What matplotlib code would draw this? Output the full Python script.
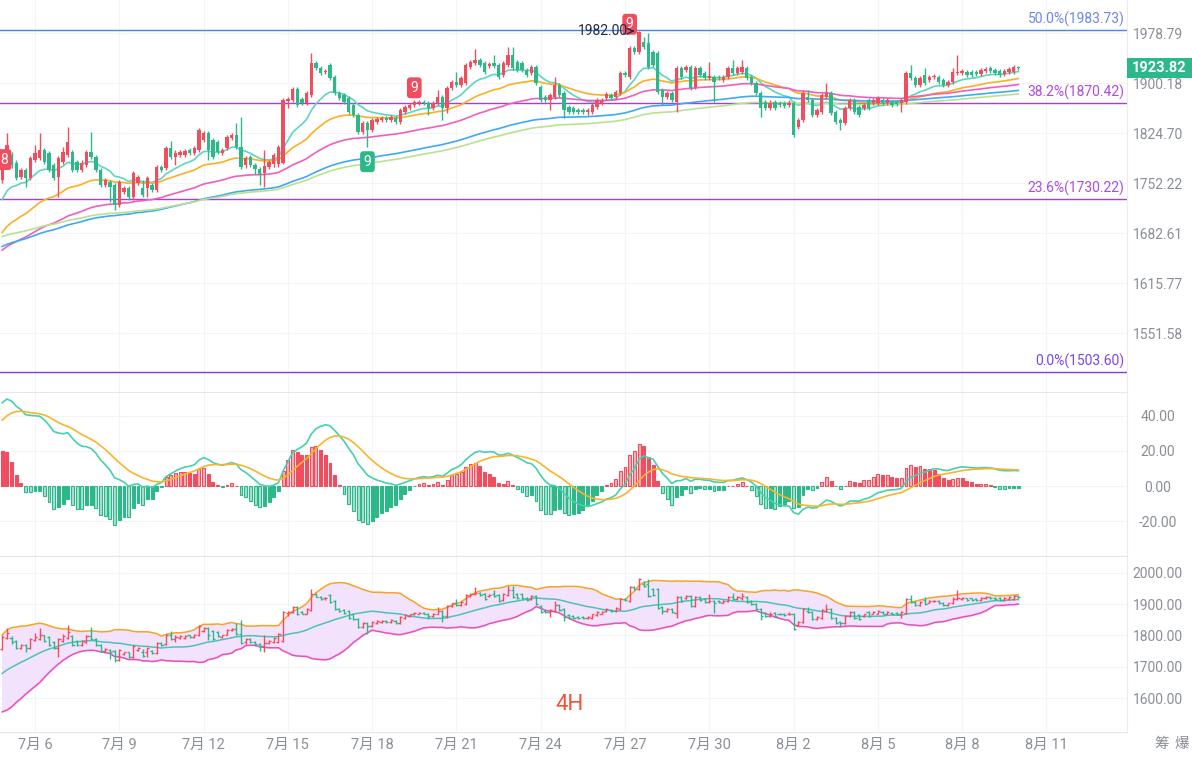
import numpy as np
import pandas as pd
import matplotlib
matplotlib.use('Agg')
import matplotlib.pyplot as plt
from matplotlib.patches import Rectangle

plt.rcParams['font.family'] = ['Roboto', 'Noto Sans CJK SC', 'DejaVu Sans']

# 4H candles, first one at 2023-07-04 20:00
start_time = '2023-07-04 20:00'

opens = [1757, 1793, 1793, 1781, 1761, 1771, 1760, 1786, 1789, 1800,
         1796, 1778, 1761, 1783, 1793, 1797, 1783, 1771, 1778, 1797,
         1790, 1771, 1750, 1754, 1750, 1722, 1740, 1746, 1732, 1753,
         1746, 1746, 1750, 1743, 1776, 1774, 1803, 1790, 1793, 1793,
         1800, 1796, 1800, 1815, 1825, 1815, 1812, 1796, 1803, 1818,
         1822, 1805, 1778, 1790, 1778, 1772, 1767, 1776, 1779, 1779,
         1781, 1873, 1875, 1891, 1876, 1870, 1882, 1932, 1924, 1918,
         1928, 1910, 1885, 1882, 1878, 1867, 1852, 1827, 1840, 1830,
         1841, 1844, 1847, 1844, 1847, 1841, 1856, 1862, 1867, 1870,
         1872, 1870, 1862, 1870, 1879, 1862, 1893, 1902, 1897, 1900,
         1925, 1931, 1936, 1931, 1927, 1931, 1928, 1913, 1928, 1944,
         1933, 1931, 1920, 1916, 1925, 1894, 1879, 1874, 1879, 1897,
         1885, 1864, 1862, 1859, 1859, 1856, 1856, 1864, 1870, 1877,
         1882, 1879, 1885, 1916, 1910, 1955, 1949, 1965, 1963, 1949,
         1947, 1890, 1879, 1885, 1871, 1924, 1920, 1925, 1894, 1924,
         1916, 1908, 1910, 1910, 1905, 1910, 1924, 1916, 1918, 1924,
         1910, 1900, 1885, 1871, 1862, 1871, 1870, 1870, 1867, 1870,
         1834, 1844, 1879, 1874, 1852, 1856, 1879, 1885, 1856, 1844,
         1840, 1862, 1874, 1864, 1862, 1874, 1870, 1870, 1874, 1870,
         1871, 1871, 1870, 1871, 1916, 1908, 1897, 1912, 1905, 1910,
         1910, 1905, 1897, 1902, 1916, 1916, 1918, 1918, 1917, 1914,
         1919, 1924, 1920, 1919, 1914, 1917, 1917, 1925]
highs = [1800, 1825, 1797, 1786, 1774, 1774, 1791, 1807, 1825, 1803,
         1799, 1781, 1791, 1804, 1834, 1800, 1786, 1786, 1800, 1826,
         1793, 1774, 1760, 1757, 1753, 1757, 1748, 1748, 1770, 1764,
         1757, 1763, 1753, 1778, 1778, 1806, 1813, 1800, 1800, 1802,
         1803, 1806, 1832, 1828, 1828, 1818, 1815, 1803, 1822, 1825,
         1840, 1849, 1791, 1793, 1781, 1775, 1800, 1786, 1796, 1807,
         1878, 1879, 1894, 1894, 1879, 1888, 1947, 1935, 1927, 1922,
         1932, 1913, 1888, 1885, 1881, 1870, 1855, 1843, 1843, 1847,
         1849, 1850, 1850, 1851, 1850, 1862, 1867, 1870, 1874, 1874,
         1874, 1873, 1873, 1890, 1882, 1896, 1905, 1917, 1911, 1931,
         1936, 1953, 1939, 1935, 1933, 1944, 1931, 1935, 1957, 1957,
         1936, 1934, 1924, 1928, 1928, 1897, 1882, 1885, 1910, 1900,
         1888, 1867, 1865, 1862, 1862, 1862, 1870, 1878, 1878, 1887,
         1885, 1890, 1919, 1919, 1958, 1958, 1982, 1972, 1979, 1952,
         1950, 1893, 1888, 1888, 1927, 1927, 1928, 1928, 1927, 1927,
         1919, 1933, 1913, 1913, 1913, 1927, 1936, 1927, 1936, 1927,
         1913, 1904, 1888, 1874, 1874, 1874, 1873, 1873, 1874, 1873,
         1847, 1888, 1890, 1878, 1862, 1885, 1900, 1888, 1859, 1847,
         1865, 1878, 1878, 1867, 1870, 1878, 1878, 1881, 1877, 1877,
         1874, 1874, 1877, 1919, 1928, 1911, 1911, 1924, 1913, 1914,
         1913, 1908, 1905, 1924, 1944, 1922, 1920, 1920, 1920, 1924,
         1925, 1927, 1924, 1922, 1922, 1925, 1928, 1927]
lows = [1753, 1790, 1774, 1757, 1758, 1747, 1757, 1783, 1786, 1780,
        1768, 1757, 1732, 1780, 1790, 1768, 1768, 1768, 1776, 1787,
        1768, 1747, 1747, 1726, 1715, 1719, 1737, 1729, 1729, 1750,
        1733, 1733, 1740, 1740, 1768, 1771, 1787, 1778, 1790, 1790,
        1793, 1793, 1797, 1812, 1786, 1787, 1794, 1793, 1800, 1815,
        1802, 1773, 1774, 1776, 1765, 1750, 1747, 1773, 1776, 1776,
        1779, 1862, 1872, 1864, 1867, 1867, 1879, 1921, 1913, 1914,
        1905, 1882, 1875, 1869, 1853, 1849, 1824, 1824, 1805, 1827,
        1838, 1841, 1841, 1841, 1838, 1838, 1853, 1859, 1864, 1867,
        1867, 1852, 1859, 1867, 1844, 1855, 1890, 1894, 1894, 1897,
        1922, 1928, 1925, 1914, 1924, 1924, 1907, 1910, 1925, 1920,
        1917, 1917, 1910, 1913, 1897, 1871, 1871, 1859, 1876, 1879,
        1847, 1853, 1853, 1853, 1853, 1852, 1853, 1861, 1867, 1874,
        1874, 1876, 1882, 1910, 1907, 1946, 1946, 1953, 1922, 1925,
        1884, 1867, 1876, 1871, 1856, 1907, 1917, 1890, 1891, 1910,
        1905, 1905, 1871, 1905, 1902, 1907, 1913, 1913, 1914, 1905,
        1897, 1882, 1849, 1859, 1859, 1859, 1864, 1862, 1864, 1819,
        1831, 1841, 1871, 1849, 1849, 1853, 1876, 1852, 1838, 1829,
        1837, 1859, 1853, 1849, 1859, 1859, 1867, 1867, 1867, 1867,
        1864, 1865, 1856, 1868, 1905, 1894, 1894, 1897, 1902, 1907,
        1899, 1894, 1894, 1899, 1913, 1913, 1910, 1910, 1911, 1911,
        1916, 1916, 1913, 1910, 1911, 1914, 1914, 1920]
closes = [1796, 1807, 1778, 1760, 1771, 1760, 1789, 1796, 1800, 1783,
          1771, 1760, 1789, 1797, 1812, 1771, 1771, 1781, 1797, 1790,
          1771, 1750, 1757, 1747, 1722, 1754, 1746, 1732, 1767, 1761,
          1736, 1760, 1743, 1776, 1771, 1803, 1790, 1796, 1797, 1799,
          1796, 1803, 1830, 1825, 1800, 1790, 1797, 1800, 1819, 1822,
          1805, 1776, 1789, 1778, 1772, 1766, 1777, 1783, 1793, 1805,
          1875, 1876, 1891, 1867, 1870, 1885, 1932, 1924, 1916, 1919,
          1908, 1885, 1878, 1872, 1856, 1852, 1827, 1840, 1830, 1844,
          1846, 1847, 1844, 1849, 1841, 1859, 1864, 1867, 1871, 1872,
          1870, 1862, 1870, 1879, 1862, 1893, 1902, 1897, 1908, 1928,
          1933, 1936, 1928, 1917, 1930, 1927, 1910, 1931, 1944, 1924,
          1920, 1920, 1913, 1925, 1900, 1874, 1874, 1882, 1897, 1882,
          1859, 1856, 1856, 1856, 1856, 1859, 1867, 1874, 1874, 1884,
          1877, 1887, 1916, 1913, 1955, 1949, 1980, 1957, 1925, 1928,
          1887, 1879, 1885, 1874, 1924, 1910, 1925, 1893, 1924, 1913,
          1908, 1911, 1902, 1908, 1910, 1924, 1916, 1924, 1925, 1908,
          1900, 1885, 1862, 1862, 1870, 1862, 1867, 1865, 1870, 1822,
          1844, 1885, 1874, 1852, 1859, 1882, 1885, 1855, 1841, 1840,
          1862, 1874, 1856, 1852, 1867, 1862, 1874, 1877, 1870, 1874,
          1867, 1868, 1874, 1916, 1908, 1897, 1908, 1900, 1910, 1911,
          1902, 1897, 1902, 1917, 1918, 1919, 1913, 1913, 1914, 1920,
          1922, 1919, 1916, 1913, 1919, 1922, 1925, 1923.82]

# estimated closes of the 19 candles before the visible range (Bollinger window)
warmup_closes = [1592, 1601, 1598, 1615, 1622, 1631, 1640, 1652, 1648, 1663,
                 1676, 1689, 1701, 1712, 1725, 1738, 1750, 1763, 1772]

# moving averages: (period, value just before the first candle, colour)
ma_periods = [12, 30, 60, 100, 120]
ma_start = [1717, 1676, 1655, 1662, 1676]
ma_colors = ['#5cd6c0', '#f9b023', '#ee5fc0', '#3fa9f5', '#b9e28f']

# MACD state before the first candle
macd_fast_start, macd_slow_start, macd_dea_start = 1725, 1680, 35

# fibonacci levels
fib_labels = ['50.0%(1983.73)', '38.2%(1870.42)', '23.6%(1730.22)', '0.0%(1503.60)']
fib_values = [1983.73, 1870.42, 1730.22, 1503.60]
fib_colors = ['#4a84e6', '#a93be3', '#a93be3', '#7a3df0']
fib_text_colors = ['#6d86ea', '#a94be6', '#a94be6', '#7a45ee']

main_ticks = [1978.79, 1900.18, 1824.70, 1752.22, 1682.61, 1615.77, 1551.58]
macd_ticks = [40, 20, 0, -20]
bb_ticks = [2000, 1900, 1800, 1700, 1600]

UP = '#f04e5e'
DOWN = '#2db88a'
GRID = '#f3f4f6'
TXT = '#8a8e96'


def ema(values, period, start):
    a = 2 / (period + 1)
    out, v = [], start
    for val in values:
        v = v + a * (val - v)
        out.append(v)
    return np.array(out)


o = np.array(opens, dtype=float)
h = np.array(highs, dtype=float)
l = np.array(lows, dtype=float)
c = np.array(closes, dtype=float)
n = len(c)
x = np.arange(n)
times = pd.date_range(start_time, periods=n, freq='4h')
col = np.where(c >= o, UP, DOWN)

# indicators
dif = ema(c, 12, macd_fast_start) - ema(c, 26, macd_slow_start)
dea = ema(dif, 9, macd_dea_start)
hist = 2 * (dif - dea)

full = pd.Series(warmup_closes + closes, dtype=float)
k = len(warmup_closes)
bb_mid = full.rolling(20).mean().to_numpy()[k:]
bb_sd = full.rolling(20).std(ddof=0).to_numpy()[k:]
bb_up = bb_mid + 2 * bb_sd
bb_lo = bb_mid - 2 * bb_sd

# date ticks every 3 days
tick_days = pd.date_range('2023-07-06', '2023-08-11', freq='3D')
tick_pos = [(d - times[0]) / pd.Timedelta('4h') for d in tick_days]
tick_lab = [f'{d.month}月 {d.day}' for d in tick_days]

fig = plt.figure(figsize=(11.92, 7.58), dpi=100)
W = 1127 / 1192
ax = fig.add_axes([0, 0.4828, W, 0.5172])
axm = fig.add_axes([0, 0.2665, W, 0.2150])
axb = fig.add_axes([0, 0.0343, W, 0.2309])

for a_ in (ax, axm, axb):
    a_.set_xlim(-0.47, 240.2)
    for s in ('top', 'left'):
        a_.spines[s].set_visible(False)
    a_.spines['right'].set_color('#ececef')
    a_.spines['bottom'].set_color('#e6e6ea')
    a_.yaxis.tick_right()
    a_.set_xticks(tick_pos)
    a_.grid(True, color=GRID, lw=0.8)
    a_.set_axisbelow(True)
    a_.tick_params(axis='both', length=0, labelcolor=TXT, labelsize=10)
    a_.tick_params(axis='y', pad=22)

# ---- main panel ----
ax.set_yscale('log')
ax.set_ylim(1479.4, 2032.6)
ax.set_yticks(main_ticks)
ax.set_yticklabels([f'{t:.2f}' for t in main_ticks])
ax.yaxis.set_minor_locator(matplotlib.ticker.NullLocator())
ax.set_xticklabels([])

for val, lab, lc, tc in zip(fib_values, fib_labels, fib_colors, fib_text_colors):
    ax.axhline(val, color=lc, lw=1.0, zorder=2)
    ax.annotate(lab, xy=(0.998, val), xycoords=('axes fraction', 'data'),
                xytext=(0, 2), textcoords='offset points', ha='right', va='bottom',
                color=tc, fontsize=10)

for p, s0, mc in zip(ma_periods, ma_start, ma_colors):
    ax.plot(x, ema(c, p, s0), color=mc, lw=1.2, zorder=3)

ax.vlines(x, l, h, colors=col, lw=1, zorder=4)
body = np.maximum(np.abs(c - o), 0.8)
ax.bar(x, body, bottom=np.minimum(o, c), width=0.72, color=col, zorder=5)

# TD markers
box = dict(boxstyle='round,pad=0.25', ec='none')
ax.text(88, 1893, '9', color='white', fontsize=10, ha='center', va='center',
        bbox=dict(box, fc=UP), zorder=6)
ax.text(78, 1783, '9', color='white', fontsize=10, ha='center', va='center',
        bbox=dict(box, fc=DOWN), zorder=6)
ax.text(134, 1993, '9', color='white', fontsize=10, ha='center', va='center',
        bbox=dict(box, fc=UP), zorder=6)
ax.text(0.4, 1786, '8', color='white', fontsize=10, ha='center', va='center',
        bbox=dict(box, fc=UP), zorder=6)
ax.annotate('1982.00', xy=(135.6, 1982), xytext=(128.2, 1982), color='#1d2b4f',
            fontsize=10, ha='center', va='center',
            arrowprops=dict(arrowstyle='->', color='#1d2b4f', lw=1), zorder=6)

# last price box on the right scale
yd = ax.transData.transform((0, c[-1]))[1]
fig.add_artist(Rectangle((1127 / 1192, (yd - 10) / 758), 65 / 1192, 20 / 758,
                         transform=fig.transFigure, fc='#2bb88a', ec='none'))
fig.text(1159 / 1192, yd / 758, f'{c[-1]:.2f}', color='white', fontsize=10.5,
         fontweight='bold', ha='center', va='center')

# ---- MACD panel ----
axm.set_ylim(-39.8, 52.9)
axm.set_yticks(macd_ticks)
axm.set_yticklabels([f'{t:.2f}' for t in macd_ticks])
axm.set_xticklabels([])
for i, hv in enumerate(hist):
    prev = hist[i - 1] if i > 0 else hv
    growing = abs(hv) > abs(prev)
    base = UP if hv >= 0 else DOWN
    light = '#f6b2b8' if hv >= 0 else '#a7e2cd'
    axm.bar(i, hv, width=0.62, color=light if growing else base,
            edgecolor=base, lw=0.8, zorder=3)
axm.plot(x, dif, color='#45d0b0', lw=1.2, zorder=4)
axm.plot(x, dea, color='#f7b52c', lw=1.2, zorder=4)

# ---- Bollinger panel ----
axb.set_ylim(1492.7, 2050)
axb.set_yticks(bb_ticks)
axb.set_yticklabels([f'{t:.2f}' for t in bb_ticks])
axb.set_xticklabels(tick_lab)
axb.tick_params(axis='x', pad=4, labelsize=10.5)
axb.fill_between(x, bb_lo, bb_up, color='#f3e2fb', zorder=2)
axb.plot(x, bb_up, color='#f5a524', lw=1.1, zorder=3)
axb.plot(x, bb_mid, color='#4cc3b8', lw=1.1, zorder=3)
axb.plot(x, bb_lo, color='#e94fbd', lw=1.1, zorder=3)
axb.vlines(x, l, h, colors=col, lw=1, zorder=4)
axb.hlines(o, x - 0.45, x, colors=col, lw=1, zorder=4)
axb.hlines(c, x, x + 0.45, colors=col, lw=1, zorder=4)

for a_ in (ax, axm, axb):
    for lab in a_.get_yticklabels():
        lab.set_horizontalalignment('center')

fig.text(570 / 1192, 1 - 705 / 758, '4H', color='#f0553c', fontsize=16,
         ha='center', va='center')
fig.text(1162 / 1192, 1 - 744 / 758, '筹', color=TXT, fontsize=10.5,
         ha='center', va='center')
fig.text(1182 / 1192, 1 - 744 / 758, '爆', color=TXT, fontsize=10.5,
         ha='center', va='center')

fig.savefig('out.png', dpi=100, facecolor='white')
